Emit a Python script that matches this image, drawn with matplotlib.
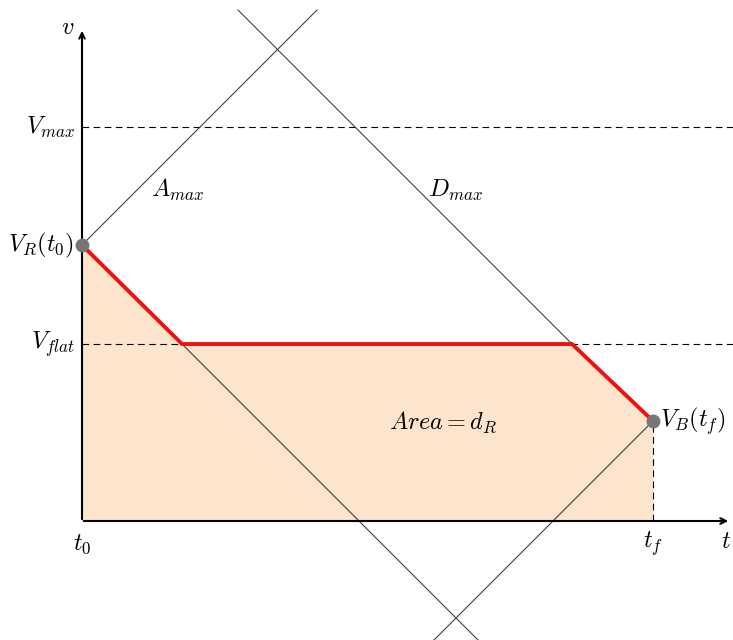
import matplotlib
matplotlib.use("Agg")
import matplotlib.pyplot as plt

plt.rcParams['mathtext.fontset'] = 'cm'
plt.rcParams['font.family'] = ['DejaVu Serif']

# velocity profile (t, v)
prof_t = [0.0, 1.0, 4.9, 5.71]
prof_v = [2.76, 1.77, 1.77, 1.0]

v_max = 3.94
v_flat = 1.77
t_f = 5.71

# construction lines, 45 degree
amax_t = [0.0, 2.35]
amax_v = [2.76, 5.11]
dmax_t = [1.56, 4.9, 5.71]
dmax_v = [5.11, 1.77, 1.0]
dec_t = [1.0, 3.98]
dec_v = [1.77, -1.21]
acc_t = [5.71, 3.50]
acc_v = [1.0, -1.21]

fig = plt.figure(figsize=(7.33, 6.4), dpi=100)
ax = fig.add_axes([0, 0, 1, 1])
ax.set_xlim(-0.82, 6.51)
ax.set_ylim(-1.19, 5.21)
ax.axis('off')

# shaded area under the profile
ax.fill_between(prof_t, prof_v, 0, color='#FDE5CD', lw=0, zorder=1)

# dashed helper lines
ax.plot([0, 6.6], [v_max, v_max], ls=(0, (6, 4)), color='k', lw=0.8, zorder=2)
ax.plot([0, 6.6], [v_flat, v_flat], ls=(0, (6, 4)), color='k', lw=0.8, zorder=2)
ax.plot([t_f, t_f], [0, prof_v[-1]], ls=(0, (6, 4)), color='k', lw=0.8, zorder=2)

# slope lines
for xs, ys in [(amax_t, amax_v), (dmax_t, dmax_v), (dec_t, dec_v), (acc_t, acc_v)]:
    ax.plot(xs, ys, color='#404040', lw=0.8, zorder=3)

# axes with arrows
ax.annotate('', xy=(6.49, 0), xytext=(-0.01, 0),
            arrowprops=dict(arrowstyle='->', lw=1.5, color='k'), zorder=4)
ax.annotate('', xy=(0, 4.93), xytext=(0, -0.01),
            arrowprops=dict(arrowstyle='->', lw=1.5, color='k'), zorder=4)

# red profile
ax.plot(prof_t, prof_v, color='#F01010', lw=2.8, zorder=5, solid_capstyle='round')
ax.plot([prof_t[0], prof_t[-1]], [prof_v[0], prof_v[-1]], 'o', color='#767676',
        ms=9, zorder=6)

fs = 17.5
ax.text(-0.14, 4.93, '$v$', fontsize=fs, ha='center', va='center')
ax.text(6.44, -0.2, '$t$', fontsize=fs, ha='center', va='center')
ax.text(0.0, -0.23, '$t_0$', fontsize=fs, ha='center', va='center')
ax.text(t_f, -0.23, '$t_f$', fontsize=fs, ha='center', va='center')
ax.text(-0.07, v_max, '$V_{max}$', fontsize=fs, ha='right', va='center')
ax.text(-0.08, prof_v[0], '$V_R(t_0)$', fontsize=fs, ha='right', va='center')
ax.text(-0.07, v_flat, '$V_{flat}$', fontsize=fs, ha='right', va='center')
ax.text(5.78, prof_v[-1], '$V_B(t_f)$', fontsize=fs, ha='left', va='center')
ax.text(0.96, 3.31, '$A_{max}$', fontsize=fs, ha='center', va='center')
ax.text(3.73, 3.31, '$D_{max}$', fontsize=fs, ha='center', va='center')
ax.text(3.61, 0.99, '$Area = d_R$', fontsize=fs, ha='center', va='center')

fig.savefig('out.png', dpi=100)
